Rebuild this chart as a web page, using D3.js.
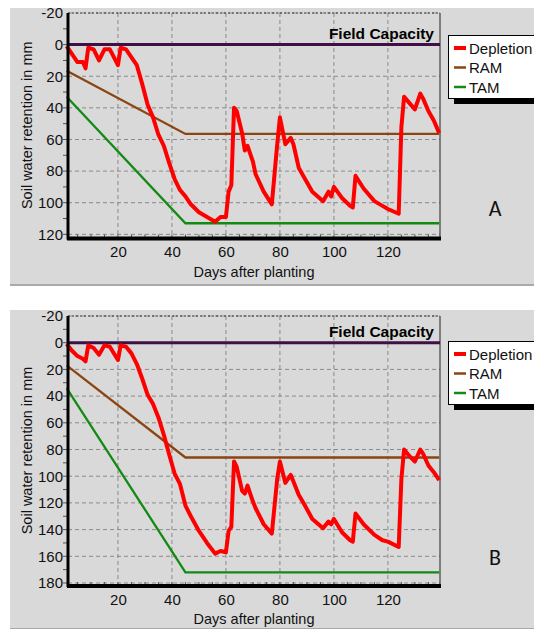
<!DOCTYPE html>
<html>
<head>
<meta charset="utf-8">
<script src="https://cdn.jsdelivr.net/npm/d3@7"></script>
<style>
  body { margin: 0; background: #fff; font-family: "Liberation Sans", Arial, sans-serif; }
</style>
</head>
<body>
<div class="chart"></div>
<script>
var svgWidth = 534;
var svgHeight = 629;

var days = [1, 3, 5, 7, 8, 9, 11, 13, 15, 17, 20, 21, 23, 25, 27, 29, 31, 33, 35, 37, 39, 41, 43, 45, 47, 50, 53, 56, 58, 60,
            61, 62, 63, 64, 66, 67, 68, 70, 71, 74, 77, 79, 80, 82, 84, 85, 87, 89, 92, 96, 98, 99, 100, 103, 106, 107,
            108, 111, 115, 118, 120, 124, 125, 126, 128, 130, 132, 133, 135, 137, 139];

// depletion (mm), chart A and chart B
var depletionA = [1, 6, 11, 11, 15, 2, 3, 10, 3, 3, 13, 2, 3, 8, 13, 25, 38, 46, 57, 64, 75, 85, 92, 96, 101, 106, 109, 112, 109, 109,
                  93, 89, 40, 42, 56, 67, 64, 74, 82, 93, 101, 63, 46, 63, 59, 63, 78, 84, 93, 99, 93, 96, 90, 97, 102, 103,
                  83, 91, 99, 102, 104, 107, 52, 33, 37, 41, 31, 34, 42, 48, 56];
var depletionB = [1, 6, 10, 12, 14, 2, 4, 9, 2, 3, 13, 2, 3, 8, 16, 27, 39, 46, 56, 69, 84, 98, 106, 122, 130, 141, 150, 158, 156, 157,
                  141, 138, 89, 93, 111, 113, 107, 119, 124, 136, 143, 102, 89, 105, 99, 104, 114, 121, 132, 139, 134, 136, 132, 142, 148, 149,
                  128, 136, 144, 148, 149, 153, 102, 80, 85, 89, 80, 83, 92, 97, 103];

// readily / total available moisture: linear until day 45, then flat
var rootDays = [1, 45, 139];
var ramA = [16.5, 56.5, 56.5];
var tamA = [33, 113, 113];
var ramB = [17, 86, 86];
var tamB = [34, 172, 172];

var xTicks = [20, 40, 60, 80, 100, 120];
var yTicksA = [-20, 0, 20, 40, 60, 80, 100, 120];
var yTicksB = [-20, 0, 20, 40, 60, 80, 100, 120, 140, 160, 180];

var legendNames = ["Depletion", "RAM", "TAM"];
var colors = { Depletion: "#ff0000", RAM: "#8b4513", TAM: "#138a13", fc: "#3f0f45" };

var svg = d3.select(".chart")
    .append("svg")
    .attr("width", svgWidth)
    .attr("height", svgHeight);

function drawPanel(p) {
  var g = svg.append("g");

  // grey panel background
  g.append("rect")
      .attr("x", 10).attr("y", p.top)
      .attr("width", 524).attr("height", p.bottom - p.top)
      .attr("fill", "#d9d9d9");
  g.append("line")
      .attr("x1", 10).attr("x2", 534)
      .attr("y1", p.bottom).attr("y2", p.bottom)
      .attr("stroke", "#a9a9a9").attr("stroke-width", 2);

  var x = d3.scaleLinear().domain([1.5, 139.3]).range([68, 440]);
  var y = d3.scaleLinear().domain(p.yDomain).range([p.plotTop, p.plotBottom]);

  // grid
  g.append("g")
      .selectAll("line.vg")
      .data(xTicks)
      .enter().append("line")
      .attr("x1", function(d) { return x(d); })
      .attr("x2", function(d) { return x(d); })
      .attr("y1", p.plotTop).attr("y2", p.plotBottom)
      .attr("stroke", "#8a8a8a").attr("stroke-dasharray", "4,3");
  g.append("g")
      .selectAll("line.hg")
      .data(p.yTicks)
      .enter().append("line")
      .attr("x1", 68).attr("x2", 440)
      .attr("y1", function(d) { return y(d); })
      .attr("y2", function(d) { return y(d); })
      .attr("stroke", "#8a8a8a").attr("stroke-dasharray", "4,3");

  // top (dotted) and right frame
  g.append("line")
      .attr("x1", 68).attr("x2", 440).attr("y1", p.plotTop).attr("y2", p.plotTop)
      .attr("stroke", "#333").attr("stroke-dasharray", "2,2");
  g.append("line")
      .attr("x1", 440).attr("x2", 440).attr("y1", p.plotTop).attr("y2", p.plotBottom)
      .attr("stroke", "#222").attr("stroke-width", 1);

  var line = d3.line()
      .x(function(d) { return x(d[0]); })
      .y(function(d) { return y(d[1]); });

  // field capacity
  g.append("line")
      .attr("x1", 68).attr("x2", 440)
      .attr("y1", y(0)).attr("y2", y(0))
      .attr("stroke", colors.fc).attr("stroke-width", 3);

  g.append("text")
      .attr("x", 434).attr("y", y(0) - 6)
      .attr("text-anchor", "end")
      .attr("font-size", 15.5).attr("font-weight", "bold")
      .attr("fill", "#000")
      .text("Field Capacity");

  g.append("path")
      .datum(d3.zip(rootDays, p.tam))
      .attr("d", line)
      .attr("fill", "none").attr("stroke", colors.TAM).attr("stroke-width", 2.3);
  g.append("path")
      .datum(d3.zip(rootDays, p.ram))
      .attr("d", line)
      .attr("fill", "none").attr("stroke", colors.RAM).attr("stroke-width", 2.3);
  g.append("path")
      .datum(d3.zip(days, p.depletion))
      .attr("d", line)
      .attr("fill", "none").attr("stroke", colors.Depletion)
      .attr("stroke-width", 4).attr("stroke-linejoin", "round");

  // axes
  var xAxis = d3.axisBottom(x).tickValues(xTicks).tickSize(0).tickPadding(8);
  var xg = g.append("g")
      .attr("transform", "translate(0," + (p.plotBottom + 1) + ")")
      .call(xAxis);
  xg.select(".domain").remove();
  xg.selectAll("text").attr("font-size", 15).attr("font-family", "Liberation Sans, Arial, sans-serif").attr("fill", "#111");

  var yAxis = d3.axisLeft(y).tickValues(p.yTicks).tickSize(0).tickPadding(3)
      .tickFormat(function(d) { return String(d); });
  var yg = g.append("g")
      .attr("transform", "translate(66,0)")
      .call(yAxis);
  yg.select(".domain").remove();
  yg.selectAll("text").attr("font-size", 15).attr("font-family", "Liberation Sans, Arial, sans-serif").attr("fill", "#111");

  // minor ticks
  var minorX = d3.range(5, 140, 5);
  g.append("g").selectAll("line")
      .data(minorX)
      .enter().append("line")
      .attr("x1", function(d) { return x(d); })
      .attr("x2", function(d) { return x(d); })
      .attr("y1", p.plotBottom - 3).attr("y2", p.plotBottom)
      .attr("stroke", "#555");
  var minorY = d3.range(p.yDomain[0] + 10, p.yDomain[1], 10);
  g.append("g").selectAll("line")
      .data(minorY)
      .enter().append("line")
      .attr("x1", 63).attr("x2", 67)
      .attr("y1", function(d) { return y(d); })
      .attr("y2", function(d) { return y(d); })
      .attr("stroke", "#555");

  // thick spines
  g.append("line")
      .attr("x1", 68).attr("x2", 68).attr("y1", p.plotTop).attr("y2", p.plotBottom + 2)
      .attr("stroke", "#000").attr("stroke-width", 3);
  g.append("line")
      .attr("x1", 67).attr("x2", 441).attr("y1", p.plotBottom + 1).attr("y2", p.plotBottom + 1)
      .attr("stroke", "#000").attr("stroke-width", 4);

  // axis titles
  g.append("text")
      .attr("x", 254).attr("y", p.plotBottom + 39)
      .attr("text-anchor", "middle").attr("font-size", 14.5).attr("fill", "#111")
      .text("Days after planting");
  g.append("text")
      .attr("transform", "translate(32," + ((p.plotTop + p.plotBottom) / 2) + ") rotate(-90)")
      .attr("text-anchor", "middle").attr("font-size", 14.5).attr("fill", "#111")
      .text("Soil water retention in mm");

  // legend
  var lg = g.append("g").attr("transform", "translate(448," + p.legendTop + ")");
  lg.append("rect")
      .attr("x", 6).attr("y", 6).attr("width", 90).attr("height", 63)
      .attr("fill", "#000");
  lg.append("rect")
      .attr("x", 0.5).attr("y", 0.5).attr("width", 90).attr("height", 63)
      .attr("fill", "#fff").attr("stroke", "#000");
  legendNames.forEach(function(name, i) {
    var ly = 13 + i * 19.5;
    lg.append("line")
        .attr("x1", 6).attr("x2", 18).attr("y1", ly).attr("y2", ly)
        .attr("stroke", colors[name]).attr("stroke-width", name === "Depletion" ? 4 : 2.5);
    lg.append("text")
        .attr("x", 21).attr("y", ly + 5.5)
        .attr("font-size", 15).attr("fill", "#111")
        .text(name);
  });

  g.append("text")
      .attr("x", 495).attr("y", p.letterY)
      .attr("text-anchor", "middle")
      .attr("font-family", "Carlito, Liberation Sans, sans-serif")
      .attr("font-size", 22).attr("fill", "#111")
      .text(p.letter);
}

drawPanel({
  top: 8, bottom: 285, plotTop: 13, plotBottom: 237.5,
  yDomain: [-20, 122], yTicks: yTicksA,
  depletion: depletionA, ram: ramA, tam: tamA,
  legendTop: 35, letter: "A", letterY: 216
});

drawPanel({
  top: 310, bottom: 629, plotTop: 316, plotBottom: 585,
  yDomain: [-20, 181.5], yTicks: yTicksB,
  depletion: depletionB, ram: ramB, tam: tamB,
  legendTop: 341, letter: "B", letterY: 565
});
</script>
</body>
</html>
